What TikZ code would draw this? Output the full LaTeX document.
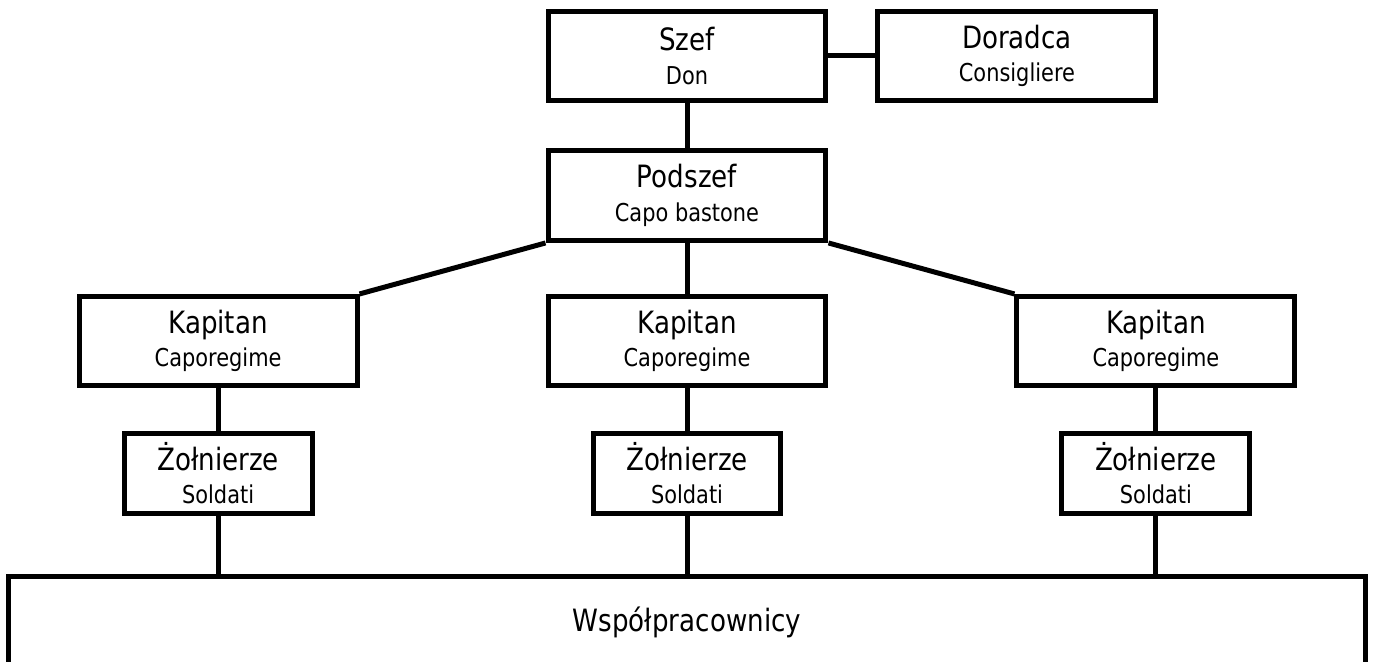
\documentclass[tikz,border=0pt]{standalone}
\usepackage{fontspec}
\setmainfont{DejaVu Sans}[FakeStretch=0.85]
\usetikzlibrary{positioning}
\tikzset{rank/.style={draw, line width=0.1cm, minimum width=5.56cm, minimum height=1.78cm, inner sep=0pt, align=center, font=\fontsize{14pt}{17pt}\selectfont}}
\tikzset{soldier/.style={rank, minimum width=3.76cm, minimum height=1.6cm}}
\tikzset{tie/.style={draw, line width=0.1cm}}
\newcommand{\hd}[1]{{\fontsize{17.5pt}{17pt}\selectfont #1}}

\begin{document}
\begin{tikzpicture}[x=0.02cm, y=-0.02cm]
	\useasboundingbox (0,0) rectangle (1374,662);
	\clip (0,0) rectangle (1374,662);
	% top
	\node[rank] (szef) at (687,56) {\hd{Szef}\\[2pt]Don};
	\node[rank, right=0.94cm of szef] (doradca) {\hd{Doradca}\\[2pt]Consigliere};
	\node[rank, minimum height=1.8cm, below=0.9cm of szef] (podszef) {\hd{Podszef}\\[2pt]Capo bastone};
	% capos
	\node[rank, below=1.02cm of podszef] (kapM) {\hd{Kapitan}\\[2pt]Caporegime};
	\node[rank, left=3.72cm of kapM] (kapL) {\hd{Kapitan}\\[2pt]Caporegime};
	\node[rank, right=3.72cm of kapM] (kapR) {\hd{Kapitan}\\[2pt]Caporegime};
	% soldiers
	\node[soldier, below=0.86cm of kapL] (solL) {\hd{Żołnierze}\\[2pt]Soldati};
	\node[soldier, below=0.86cm of kapM] (solM) {\hd{Żołnierze}\\[2pt]Soldati};
	\node[soldier, below=0.86cm of kapR] (solR) {\hd{Żołnierze}\\[2pt]Soldati};
	\node[rank, minimum width=27.14cm, minimum height=1.84cm, below=1.16cm of solM] (wsp) {\hd{Współpracownicy}};
	% ties
	\draw[tie] (szef) -- (doradca);
	\draw[tie] (szef) -- (podszef);
	\draw[tie] (podszef.south west) -- (kapL.north east);
	\draw[tie] (podszef) -- (kapM);
	\draw[tie] (podszef.south east) -- (kapR.north west);
	\foreach \k in {L,M,R}{
		\draw[tie] (kap\k) -- (sol\k);
		\draw[tie] (sol\k) -- (sol\k.south |- wsp.north);
	}
\end{tikzpicture}
\end{document}
